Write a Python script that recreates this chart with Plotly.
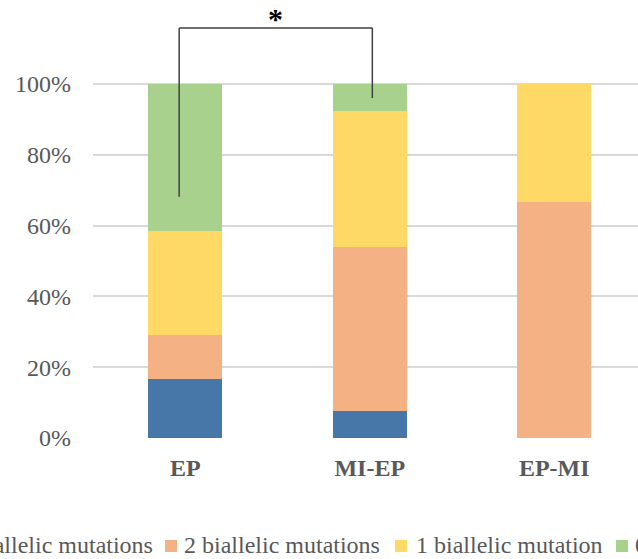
import plotly.graph_objects as go

categories = ["EP", "MI-EP", "EP-MI"]
series_names = ["3 biallelic mutations", "2 biallelic mutations",
                "1 biallelic mutation", "0 biallelic mutations"]
values_3 = [0.167, 0.077, 0.0]
values_2 = [0.125, 0.462, 0.667]
values_1 = [0.292, 0.384, 0.333]
values_0 = [0.416, 0.077, 0.0]
tick_vals = [0, 0.2, 0.4, 0.6, 0.8, 1.0]
tick_text = ["0%", "20%", "40%", "60%", "80%", "100%"]
colors = ["#4677A8", "#F4B183", "#FFD966", "#A9D18E"]

W, H = 638, 559
ML, MR, MT, MB = 93, 0, 13, 121
PW, PH = W - ML - MR, H - MT - MB
def px_x(p):
    return (p - ML) / PW
def px_y(p):
    return (H - MB - p) / PH

fig = go.Figure()
for name, vals, col in zip(series_names, [values_3, values_2, values_1, values_0], colors):
    fig.add_trace(go.Bar(x=categories, y=vals, name=name, marker_color=col,
                         marker_line_width=0, showlegend=False, hoverinfo="skip"))

font_fam = "Liberation Serif, Times New Roman, serif"
fig.update_layout(
    width=W, height=H, barmode="stack", bargap=0.6,
    margin=dict(l=ML, r=MR, t=MT, b=MB),
    plot_bgcolor="white", paper_bgcolor="white",
    xaxis=dict(range=[-0.5, -0.5 + PW / 184.5], showgrid=False, showline=False,
               zeroline=False, ticks="", ticklabelstandoff=13,
               tickfont=dict(family=font_fam, size=24, color="#595959", weight="bold")),
    yaxis=dict(range=[0, 1.2], tickvals=tick_vals, ticktext=tick_text,
               showgrid=True, gridcolor="#D9D9D9", gridwidth=1.5,
               zeroline=False, showline=False, ticks="", ticklabelstandoff=21,
               tickfont=dict(family=font_fam, size=24, color="#595959")),
)

# significance bracket
lc = "#404040"
fig.add_shape(type="line", xref="x", yref="y", x0=-0.033, x1=-0.033, y0=0.681, y1=1.158,
              line=dict(color=lc, width=1.5))
fig.add_shape(type="line", xref="x", yref="y", x0=-0.033, x1=1.014, y0=1.158, y1=1.158,
              line=dict(color=lc, width=1.5))
fig.add_shape(type="line", xref="x", yref="y", x0=1.014, x1=1.014, y0=0.960, y1=1.158,
              line=dict(color=lc, width=1.5))
fig.add_annotation(x=0.488, y=1.185, xref="x", yref="y", text="*", showarrow=False,
                   font=dict(family=font_fam, size=30, color="black", weight="bold"),
                   yanchor="middle")

# legend (cropped, as in the reference)
text_y = 545
sq_top, sq_bot = 540, 552
legend_items = [
    # (square left px, text px, anchor)
    (-64, 155, "right"),
    (165, 182, "left"),
    (395, 414, "left"),
    (616, 633, "left"),
]
for (sq_l, tx, anc), name, col in zip(legend_items, series_names, colors):
    fig.add_shape(type="rect", xref="paper", yref="paper",
                  x0=px_x(sq_l), x1=px_x(sq_l + 12), y0=px_y(sq_bot), y1=px_y(sq_top),
                  fillcolor=col, line_width=0)
    fig.add_annotation(x=px_x(tx), y=px_y(text_y), xref="paper", yref="paper",
                       text=name, showarrow=False, xanchor=anc, yanchor="middle",
                       font=dict(family=font_fam, size=24, color="#595959"))

fig.write_html("out.html", config={"displayModeBar": False},
               post_script="document.body.style.margin='0';document.body.style.overflow='hidden';")
